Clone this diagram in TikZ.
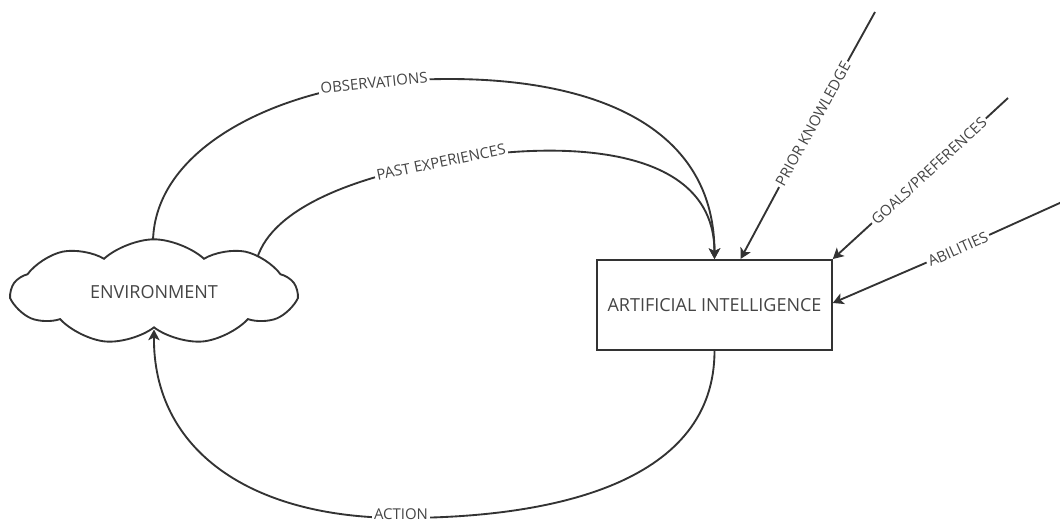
\documentclass[tikz,border=0pt]{standalone}
\usepackage{fontspec}
\setmainfont{Open Sans}
\usetikzlibrary{shapes.symbols,arrows.meta,calc,backgrounds}
\definecolor{ln}{HTML}{333333}
\definecolor{tx}{HTML}{454545}
\tikzset{
  conn/.style={draw=ln,line width=1.4pt},
  arr/.style={conn,-{Stealth[length=8pt,width=8.5pt,inset=2pt]}},
  lbl/.style={fill=white,text=tx,font=\fontsize{11.2}{13}\selectfont,inner sep=1.5pt},
  mainlbl/.style={text=tx,font=\fontsize{13.5}{16}\selectfont},
}
\begin{document}
\begin{tikzpicture}[x=0.75pt,y=-0.75pt]
\useasboundingbox (0,0) rectangle (1060,523);
% nodes
\node[cloud,cloud puffs=9,cloud puff arc=85,cloud ignores aspect,draw=ln,line width=1.4pt,fill=white,
      minimum width=213pt,minimum height=79pt,mainlbl] (env) at (154,292) {ENVIRONMENT};
\node[draw=ln,line width=1.4pt,fill=white,minimum width=176pt,minimum height=67.5pt,mainlbl] (ai) at (714.5,305) {ARTIFICIAL INTELLIGENCE};
% labels
\node[lbl,rotate=6] (obs) at (374,83) {OBSERVATIONS};
\node[lbl,rotate=11.5] (past) at (441,162) {PAST EXPERIENCES};
\node[lbl] (act) at (401,514) {ACTION};
\node[lbl,rotate=61.2] (pk) at (813,124) {PRIOR KNOWLEDGE};
\node[lbl,rotate=42.8] (gp) at (929,171) {GOALS/PREFERENCES};
\node[lbl,rotate=24] (ab) at (958,249) {ABILITIES};
\coordinate (pk0) at (875,12);
\coordinate (gp0) at (1008,98);
\coordinate (ab0) at (1062,202);
\begin{pgfonlayer}{background}
\draw[arr] (153,241) .. controls (155,150) and (270,95) .. (obs.center)
   .. controls (540,66) and (714,100) .. (ai.north);
\draw[arr] (255,268) .. controls (262,215) and (340,180) .. (past.center)
   .. controls (520,145) and (714,130) .. (ai.north);
\draw[arr] (ai.south) .. controls (714.5,480) and (560,518) .. ($(act.center)+(0,4)$)
   .. controls (250,518) and (153,450) .. ($(env.south)+(0,1)$);
\draw[arr] (pk0) -- (pk.center) -- ($(ai.north)+(26,0)$);
\draw[arr] (gp0) -- (gp.center) -- (ai.north east);
\draw[arr] (ab0) -- (ab.center) -- ($(ai.east)+(0,-2)$);
\end{pgfonlayer}
\end{tikzpicture}
\end{document}
